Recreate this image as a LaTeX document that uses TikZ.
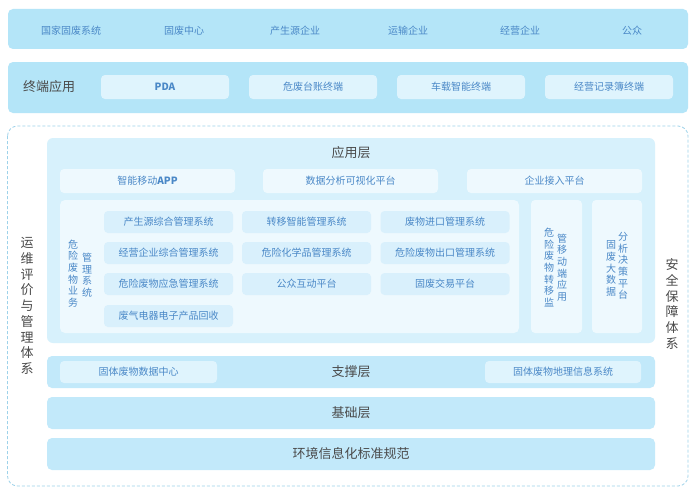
\documentclass[tikz,border=0pt]{standalone}
\usepackage{fontspec}
\setmainfont{Noto Sans CJK SC}
\usetikzlibrary{positioning}
\definecolor{bandA}{HTML}{B4E5F8}
\definecolor{bandB}{HTML}{C2E9FA}
\definecolor{appL}{HTML}{D7F1FC}
\definecolor{panelW}{HTML}{EEF9FE}
\definecolor{gridB}{HTML}{D9F0FC}
\definecolor{termB}{HTML}{DFF4FD}
\definecolor{txtB}{HTML}{4A88C7}
\definecolor{txtD}{HTML}{4A4A4A}
\definecolor{dashC}{HTML}{9DD2EA}
\tikzset{
  rbox/.style={rounded corners=4pt, draw=none, inner sep=0pt, minimum width=#1},
  bandbox/.style={rbox=680pt, fill=bandA, rounded corners=5pt},
  layer/.style={rbox=608pt, fill=bandB, minimum height=32pt, rounded corners=5pt, font=\fontsize{13}{15}\selectfont, text=txtD},
  termbox/.style={rbox=128pt, fill=termB, minimum height=24pt, font=\fontsize{10}{12}\selectfont, text=txtB},
  topbox/.style={rbox=175pt, fill=panelW, minimum height=24pt, font=\fontsize{10}{12}\selectfont, text=txtB},
  gridbox/.style={rbox=129pt, fill=gridB, minimum height=22pt, font=\fontsize{10}{12}\selectfont, text=txtB},
  supbox/.style={rbox=157pt, fill=termB, minimum height=22pt, font=\fontsize{10}{12}\selectfont, text=txtB},
  sidepanel/.style={rbox=50pt, fill=panelW, minimum height=133pt},
  toptxt/.style={font=\fontsize{10}{12}\selectfont, text=txtB, inner sep=0pt},
  vsmall/.style={font=\fontsize{10}{11.6}\selectfont, text=txtB, align=center, inner sep=0pt},
  vbig/.style={font=\fontsize{13}{15.7}\selectfont, text=txtD, align=center, inner sep=0pt},
}
\begin{document}
\begin{tikzpicture}[x=1pt,y=-1pt]
\useasboundingbox (0,0) rectangle (700,495);
\fill[white] (0,0) rectangle (700,495);

% top band
\node[bandbox, minimum height=40pt] (top) at (348,29) {};
\node[toptxt] (t1) at (71,31) {国家固废系统};
\node[toptxt] (t2) at (184,31) {固废中心};
\node[toptxt] (t3) at (295,31) {产生源企业};
\node[toptxt] (t4) at (408,31) {运输企业};
\node[toptxt] (t5) at (520,31) {经营企业};
\node[toptxt] (t6) at (632,31) {公众};

% terminal band
\node[bandbox, minimum height=51pt] (term) at (348,87.5) {};
\node[font=\fontsize{13}{15}\selectfont, text=txtD, inner sep=0pt] (termlbl) at (49,87) {终端应用};
\node[termbox] (pda) at (165,87) {\textbf{PDA}};
\node[termbox] (tz) at (313,87) {危废台账终端};
\node[termbox] (cz) at (461,87) {车载智能终端};
\node[termbox] (jy) at (609,87) {经营记录簿终端};

% dashed frame
\draw[dashC, dash pattern=on 3pt off 2pt, rounded corners=10pt, line width=0.8pt] (7.5,126) rectangle (688,486);
\node[vbig] (left) at (27,306) {运\\维\\评\\价\\与\\管\\理\\体\\系};
\node[vbig] (right) at (672,304) {安\\全\\保\\障\\体\\系};

% application layer
\node[rbox=608pt, fill=appL, minimum height=205pt, rounded corners=6pt] (app) at (351,240.5) {};
\node[font=\fontsize{13}{15}\selectfont, text=txtD, inner sep=0pt] (applbl) at (351,153) {应用层};
\node[topbox] (a1) at (147.5,181) {智能移动\textbf{APP}};
\node[topbox] (a2) at (350.5,181) {数据分析可视化平台};
\node[topbox] (a3) at (554.5,181) {企业接入平台};

\node[rbox=459pt, fill=panelW, minimum height=133pt, rounded corners=5pt] (inner) at (289.5,266.5) {};
\node[vsmall] (v1) at (73,273.5) {危\\险\\废\\物\\业\\务};
\node[vsmall] (v2) at (87,275) {管\\理\\系\\统};

\node[gridbox] (g11) at (168.5,222) {产生源综合管理系统};
\node[gridbox] (g12) at (306.5,222) {转移智能管理系统};
\node[gridbox] (g13) at (445,222) {废物进口管理系统};
\node[gridbox] (g21) at (168.5,253) {经营企业综合管理系统};
\node[gridbox] (g22) at (306.5,253) {危险化学品管理系统};
\node[gridbox] (g23) at (445,253) {危险废物出口管理系统};
\node[gridbox] (g31) at (168.5,284) {危险废物应急管理系统};
\node[gridbox] (g32) at (306.5,284) {公众互动平台};
\node[gridbox] (g33) at (445,284) {固废交易平台};
\node[gridbox] (g41) at (168.5,316) {废气电器电子产品回收};

\node[sidepanel, minimum width=51pt] (sp1) at (556.5,266.5) {};
\node[vsmall] (s1a) at (549,267.5) {危\\险\\废\\物\\转\\移\\监};
\node[vsmall] (s1b) at (562,267.5) {管\\移\\动\\端\\应\\用};
\node[sidepanel] (sp2) at (617,266.5) {};
\node[vsmall] (s2a) at (611,268.5) {固\\废\\大\\数\\据};
\node[vsmall] (s2b) at (623,266) {分\\析\\决\\策\\平\\台};

% support layer
\node[layer] (sup) at (351,372) {支撑层};
\node[supbox] (d1) at (138.5,372) {固体废物数据中心};
\node[supbox, minimum width=156pt] (d2) at (563,372) {固体废物地理信息系统};

\node[layer] (base) at (351,413) {基础层};
\node[layer] (std) at (351,454) {环境信息化标准规范};
\end{tikzpicture}
\end{document}
